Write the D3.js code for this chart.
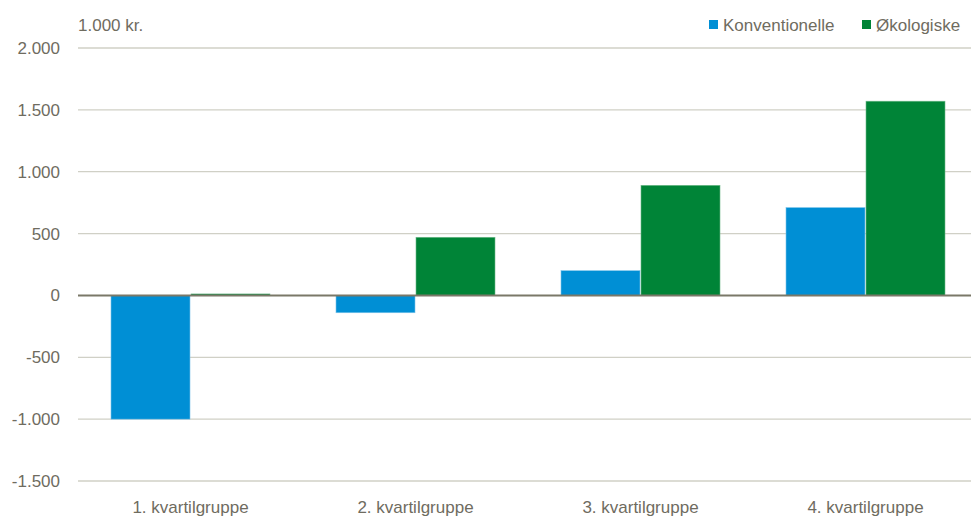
<!DOCTYPE html>
<html>
<head>
<meta charset="utf-8">
<script src="https://cdn.jsdelivr.net/npm/d3@7"></script>
<style>
  body { margin: 0; background: #fff; }
  text { font-family: "Liberation Sans Narrow", "Arial Narrow", "Liberation Sans", sans-serif; fill: #6f6c5f; }
</style>
</head>
<body>
<script>
// data (1.000 kr.)
let groups = ["1. kvartilgruppe", "2. kvartilgruppe", "3. kvartilgruppe", "4. kvartilgruppe"];
let series = ["Konventionelle", "Økologiske"];
let konventionelle = [-1000, -140, 200, 710];
let okologiske = [12, 470, 890, 1570];
let yTicks = [-1500, -1000, -500, 0, 500, 1000, 1500, 2000];
let colors = ["#008fd5", "#008437"];

let width = 971, height = 518;

let svg = d3.select("body")
  .append("svg")
    .attr("width", width)
    .attr("height", height);

let y = d3.scaleLinear()
  .domain([-1500, 2000])
  .range([481, 48]);

let x = d3.scaleBand()
  .domain(groups)
  .range([78, 978])
  .paddingInner(0)
  .paddingOuter(0);

let xInner = d3.scaleBand()
  .domain(series)
  .range([32.5, x.bandwidth() - 32.5]);

// danish style: dot as thousands separator, plain hyphen for minus
let fmt = d => d3.format(",")(d).replace(/,/g, ".").replace("\u2212", "-");

// gridlines
svg.append("g")
  .selectAll("line")
  .data(yTicks.filter(d => d != 0))
  .enter()
    .append("line")
    .attr("x1", 78)
    .attr("x2", width)
    .attr("y1", d => y(d))
    .attr("y2", d => y(d))
    .attr("stroke", "#d0d0c6")
    .attr("stroke-width", 1.3);

// y labels
svg.append("g")
  .selectAll("text")
  .data(yTicks)
  .enter()
    .append("text")
    .attr("x", 60)
    .attr("y", d => y(d))
    .attr("dy", "0.35em")
    .attr("text-anchor", "end")
    .attr("font-size", 17)
    .text(fmt);

// bars
let rows = groups.map((g, i) => [
  { group: g, s: series[0], v: konventionelle[i], c: colors[0] },
  { group: g, s: series[1], v: okologiske[i], c: colors[1] }
]).flat();

svg.append("g")
  .selectAll("rect")
  .data(rows)
  .enter()
    .append("rect")
    .attr("x", d => x(d.group) + xInner(d.s) + 0.5)
    .attr("width", xInner.bandwidth() - 1)
    .attr("y", d => y(Math.max(0, d.v)))
    .attr("height", d => Math.abs(y(d.v) - y(0)))
    .attr("fill", d => d.c)
    .attr("stroke", d => d.s == series[0] ? "#7cc3ea" : "#6fb98a")
    .attr("stroke-width", 0.6);

// zero line
svg.append("line")
  .attr("x1", 78)
  .attr("x2", width)
  .attr("y1", y(0))
  .attr("y2", y(0))
  .attr("stroke", "#7a7868")
  .attr("stroke-width", 2);

// x labels
svg.append("g")
  .selectAll("text")
  .data(groups)
  .enter()
    .append("text")
    .attr("x", d => x(d) + x.bandwidth() / 2)
    .attr("y", 513)
    .attr("text-anchor", "middle")
    .attr("font-size", 17)
    .text(d => d);

// unit
svg.append("text")
  .attr("x", 78)
  .attr("y", 31)
  .attr("font-size", 17)
  .text("1.000 kr.");

// legend
let legendX = [709, 862];
let legend = svg.append("g")
  .selectAll("g")
  .data(series)
  .enter()
    .append("g")
    .attr("transform", (d, i) => "translate(" + legendX[i] + ",20)");

legend.append("rect")
  .attr("width", 9)
  .attr("height", 9)
  .attr("fill", (d, i) => colors[i]);

legend.append("text")
  .attr("x", 14)
  .attr("y", 11)
  .attr("font-size", 17)
  .text(d => d);
</script>
</body>
</html>
